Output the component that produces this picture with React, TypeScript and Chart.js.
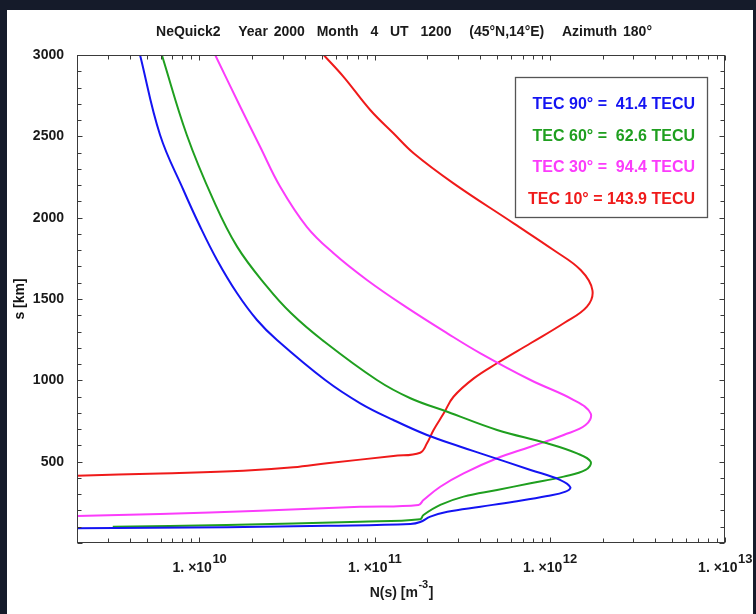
import { useEffect, useRef } from 'react';
import { Chart, registerables } from 'chart.js';

Chart.register(...registerables);

// ---- axis ranges & tick labels ----
const X_MIN = 2e9;
const X_MAX = 1e13;
const Y_MIN = 0;
const Y_MAX = 3000;
const xLabelExponents = [10, 11, 12, 13];
const yLabelValues = [500, 1000, 1500, 2000, 2500, 3000];
const yMinorStep = 100;

// ---- legend info ----
const elevations = [90, 60, 30, 10];
const tecValues = [41.4, 62.6, 94.4, 143.9];
const colors = ['#1414f2', '#1f9f1f', '#fb3cfb', '#ef1a1a'];

// ---- curves: electron density N (m^-3) vs. slant distance s (km) ----
const blueN = [2e9, 1.44e10, 5.37e10, 1.6e11, 1.82e11, 2.08e11, 2.6e11, 4.02e11, 6.22e11, 9.66e11, 1.23e12, 1.31e12, 1.15e12, 7.76e11, 4.02e11, 3.09e11, 1.99e11, 1.28e11, 8.28e10, 5.22e10, 2.77e10, 2.13e10, 1.64e10, 1.26e10, 1.01e10, 8.1e9, 5.96e9, 4.58e9];
const blueS = [90, 97, 106, 117, 129, 162, 192, 223, 254, 289, 316, 342, 387, 449, 551, 592, 664, 756, 859, 1002, 1248, 1371, 1535, 1740, 1944, 2170, 2508, 3000];

const greenN = [3.2e9, 1.43e10, 8.28e10, 1.82e11, 1.9e11, 2.37e11, 3.22e11, 5.0e11, 7.76e11, 1.2e12, 1.6e12, 1.71e12, 1.43e12, 9.66e11, 5.0e11, 2.6e11, 1.6e11, 1.03e11, 5.02e10, 3.34e10, 2.43e10, 1.64e10, 1.2e10, 8.47e9, 6.1e9];
const greenS = [100, 111, 131, 146, 172, 234, 285, 326, 367, 408, 449, 500, 551, 613, 695, 807, 890, 1002, 1248, 1412, 1576, 1822, 2109, 2508, 3000];

const magentaN = [2e9, 5.96e9, 2.22e10, 8.28e10, 1.78e11, 1.9e11, 2.37e11, 3.22e11, 5.0e11, 7.76e11, 1.2e12, 1.6e12, 1.71e12, 1.37e12, 7.76e11, 4.02e11, 2.6e11, 1.5e11, 9.04e10, 5.83e10, 4.1e10, 2.89e10, 2.22e10, 1.71e10, 1.23e10];
const magentaS = [166, 178, 199, 223, 234, 264, 346, 428, 521, 592, 664, 725, 797, 879, 1002, 1166, 1289, 1453, 1617, 1781, 1944, 2190, 2436, 2682, 3000];

const redN = [2e9, 5.96e9, 1.78e10, 3.44e10, 5.35e10, 1.28e11, 1.82e11, 1.99e11, 2.17e11, 2.48e11, 2.82e11, 3.68e11, 5.0e11, 7.76e11, 1.2e12, 1.63e12, 1.75e12, 1.5e12, 1.05e12, 6.22e11, 2.82e11, 1.67e11, 1.28e11, 9.44e10, 6.65e10, 5.12e10];
const redS = [414, 428, 444, 465, 490, 535, 555, 613, 695, 797, 899, 1012, 1105, 1228, 1351, 1453, 1555, 1678, 1801, 1965, 2211, 2396, 2519, 2662, 2866, 3000];

const curves = [
  { n: blueN, s: blueS },
  { n: greenN, s: greenS },
  { n: magentaN, s: magentaS },
  { n: redN, s: redS },
];

const TITLE = 'NeQuick2   Year 2000  Month  4  UT  1200   (45°N,14°E)   Azimuth 180°';
const FONT = '"Liberation Sans", Arial, Helvetica, sans-serif';

const legendText = (i: number) => {
  const v = tecValues[i].toFixed(1);
  return `TEC ${elevations[i]}° = ${v.length < 5 ? ' ' : ''}${v} TECU`;
};

const decorPlugin = {
  id: 'decor',
  beforeDraw(chart: any) {
    const { ctx, width, height } = chart;
    ctx.save();
    ctx.fillStyle = '#151b2a';
    ctx.fillRect(0, 0, width, height);
    ctx.fillStyle = '#ffffff';
    ctx.fillRect(7, 10, 746, height - 10);
    ctx.restore();
  },
  afterDraw(chart: any) {
    const { ctx, chartArea: a, scales } = chart;
    const xs = scales.x;
    const ys = scales.y;
    ctx.save();

    // frame
    ctx.strokeStyle = '#3a3a3a';
    ctx.lineWidth = 1;
    const L = Math.round(a.left) + 0.5;
    const R = Math.round(a.right) - 0.5;
    const T = Math.round(a.top) + 0.5;
    const B = Math.round(a.bottom) - 0.5;
    ctx.strokeRect(L, T, R - L, B - T);

    // x ticks (inward, bottom + top)
    ctx.beginPath();
    for (let e = Math.floor(Math.log10(X_MIN)); e <= Math.ceil(Math.log10(X_MAX)); e++) {
      for (let m = 1; m <= 9; m++) {
        const v = m * Math.pow(10, e);
        if (v < X_MIN * 0.999 || v > X_MAX * 1.001) continue;
        const px = Math.round(xs.getPixelForValue(v)) + 0.5;
        const len = m === 1 ? 5 : 4;
        ctx.moveTo(px, B);
        ctx.lineTo(px, B - len);
        ctx.moveTo(px, T);
        ctx.lineTo(px, T + len);
      }
    }
    // y ticks (inward, left + right)
    for (let v = Y_MIN; v <= Y_MAX; v += yMinorStep) {
      const py = Math.round(ys.getPixelForValue(v)) + 0.5;
      const len = v % 500 === 0 ? 5 : 4;
      ctx.moveTo(L, py);
      ctx.lineTo(L + len, py);
      ctx.moveTo(R, py);
      ctx.lineTo(R - len, py);
    }
    ctx.stroke();

    // x tick labels with superscripts
    ctx.fillStyle = '#1a1a1a';
    ctx.textAlign = 'left';
    ctx.textBaseline = 'alphabetic';
    for (const e of xLabelExponents) {
      const px = xs.getPixelForValue(Math.pow(10, e));
      ctx.font = `bold 14px ${FONT}`;
      const base = '1. ×10';
      const w1 = ctx.measureText(base).width;
      ctx.font = `bold 13px ${FONT}`;
      const sup = String(e);
      const w2 = ctx.measureText(sup).width;
      const x0 = px - (w1 + w2) / 2;
      ctx.font = `bold 14px ${FONT}`;
      ctx.fillText(base, x0, 572);
      ctx.font = `bold 13px ${FONT}`;
      ctx.fillText(sup, x0 + w1 + 0.5, 563);
    }

    // x axis title with superscript
    {
      const cx = (a.left + a.right) / 2;
      ctx.font = `bold 14px ${FONT}`;
      const p1 = 'N(s) [m';
      const p3 = ']';
      const w1 = ctx.measureText(p1).width;
      ctx.font = `bold 11px ${FONT}`;
      const p2 = '-3';
      const w2 = ctx.measureText(p2).width;
      ctx.font = `bold 14px ${FONT}`;
      const w3 = ctx.measureText(p3).width;
      const x0 = cx - (w1 + w2 + w3) / 2;
      ctx.fillText(p1, x0, 597);
      ctx.fillText(p3, x0 + w1 + w2 + 1, 597);
      ctx.font = `bold 11px ${FONT}`;
      ctx.fillText(p2, x0 + w1 + 0.5, 588);
    }

    // chart title
    ctx.font = `bold 14px ${FONT}`;
    ctx.textAlign = 'center';
    if ('wordSpacing' in ctx) (ctx as any).wordSpacing = '2px';
    ctx.fillText(TITLE, (a.left + a.right) / 2 + 3, 36);
    if ('wordSpacing' in ctx) (ctx as any).wordSpacing = '0px';

    // legend box
    const bx = 515.5, by = 77.5, bw = 192, bh = 140;
    ctx.fillStyle = '#ffffff';
    ctx.fillRect(bx, by, bw, bh);
    ctx.strokeStyle = '#555';
    ctx.lineWidth = 1.3;
    ctx.strokeRect(bx, by, bw, bh);
    ctx.font = `bold 16px ${FONT}`;
    ctx.textAlign = 'right';
    for (let i = 0; i < elevations.length; i++) {
      ctx.fillStyle = colors[i];
      ctx.fillText(legendText(i), 695, 109 + i * 31.5);
    }
    ctx.restore();
  },
};

export default function App() {
  const ref = useRef<HTMLCanvasElement>(null);
  useEffect(() => {
    document.body.style.margin = '0';
    document.body.style.background = '#151b2a';
    const chart = new Chart(ref.current as HTMLCanvasElement, {
      type: 'scatter',
      data: {
        datasets: curves.map((c, i) => ({
          label: legendText(i),
          data: c.n.map((n, k) => ({ x: n, y: c.s[k] })),
          showLine: true,
          borderColor: colors[i],
          backgroundColor: colors[i],
          borderWidth: 2,
          pointRadius: 0,
          tension: 0.4,
          fill: false,
        })),
      },
      options: {
        responsive: false,
        animation: false,
        devicePixelRatio: 1,
        layout: { padding: { top: 55, right: 31, left: 0, bottom: 0 } },
        plugins: {
          legend: { display: false },
          title: { display: false },
          tooltip: { enabled: false },
        },
        scales: {
          x: {
            type: 'logarithmic',
            position: 'bottom',
            min: X_MIN,
            max: X_MAX,
            grid: { display: false, drawTicks: false },
            border: { display: false },
            ticks: { display: false },
            afterFit: (s: any) => { s.height = 71; },
          },
          y: {
            type: 'linear',
            min: Y_MIN,
            max: Y_MAX,
            grid: { display: false, drawTicks: false },
            border: { display: false },
            ticks: {
              stepSize: yMinorStep,
              autoSkip: false,
              padding: 13,
              color: '#1a1a1a',
              font: { family: FONT, size: 14, weight: 'bold' },
              callback: (v: any) => (yLabelValues.includes(Number(v)) ? String(v) : ''),
            },
            title: {
              display: true,
              text: 's [km]',
              color: '#111',
              font: { family: FONT, size: 14, weight: 'bold' },
              padding: { top: 12, bottom: 0 },
            },
            afterFit: (s: any) => { s.width = 77; },
          },
        },
      },
      plugins: [decorPlugin],
    } as any);
    return () => chart.destroy();
  }, []);
  return <canvas ref={ref} width={756} height={614} style={{ display: 'block', width: 756, height: 614 }} />;
}
